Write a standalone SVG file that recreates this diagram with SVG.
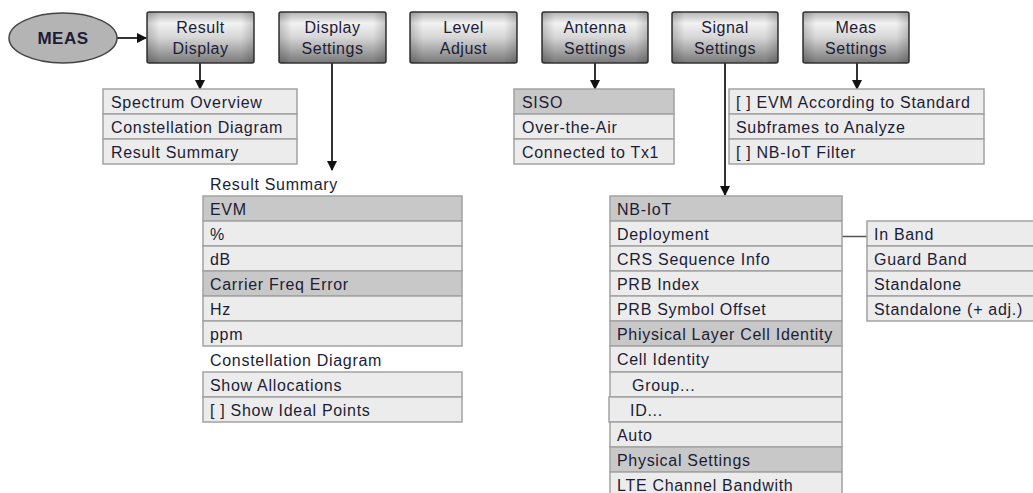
<svg xmlns="http://www.w3.org/2000/svg" width="1033" height="493" viewBox="0 0 1033 493">
<defs>
<linearGradient id="btn" x1="0" y1="0" x2="0" y2="1">
<stop offset="0" stop-color="#b4b4b4"/>
<stop offset="0.22" stop-color="#f2f2f2"/>
<stop offset="0.5" stop-color="#d6d6d6"/>
<stop offset="1" stop-color="#787878"/>
</linearGradient>
<linearGradient id="btnh" x1="0" y1="0" x2="1" y2="0">
<stop offset="0" stop-color="#000" stop-opacity="0.18"/>
<stop offset="0.12" stop-color="#000" stop-opacity="0"/>
<stop offset="0.88" stop-color="#000" stop-opacity="0"/>
<stop offset="1" stop-color="#000" stop-opacity="0.18"/>
</linearGradient>
<marker id="ah" markerWidth="10" markerHeight="10" refX="9" refY="5" orient="auto" markerUnits="userSpaceOnUse">
<path d="M0,0 L10,5 L0,10 Z" fill="#111"/>
</marker>
</defs>
<style>
.btn{fill:url(#btn);stroke:#333;stroke-width:1.5}
.bth{fill:url(#btnh);stroke:none}
.bt{font-family:"Liberation Sans",Arial,sans-serif;font-size:16px;letter-spacing:0.5px;fill:#1c1c36;text-anchor:middle}
.row{fill:#ececec;stroke:#a2a2a2;stroke-width:1.5}
.hd{fill:#c8c8c8;stroke:#a2a2a2;stroke-width:1.5}
.t{font-family:"Liberation Sans",Arial,sans-serif;font-size:16px;letter-spacing:0.7px;fill:#1c1c36}
.arr{stroke:#333;stroke-width:2;fill:none;marker-end:url(#ah)}
.ln{stroke:#555;stroke-width:1.5;fill:none}
</style>
<rect width="1033" height="493" fill="#fff"/>

<g id="connectors">
<line class="arr" x1="117" y1="38" x2="146" y2="38"/>
<line class="arr" x1="200" y1="63" x2="200" y2="89"/>
<line class="arr" x1="332" y1="63" x2="332" y2="170"/>
<line class="arr" x1="595" y1="63" x2="595" y2="89"/>
<line class="arr" x1="725" y1="63" x2="725" y2="195"/>
<line class="arr" x1="857" y1="63" x2="857" y2="89"/>
<line class="ln" x1="842" y1="236.5" x2="867" y2="236.5"/>
</g>

<g id="meas">
<ellipse cx="63" cy="38" rx="54" ry="25" fill="#b4b4b4" stroke="#444" stroke-width="1.5"/>
<text x="63" y="44" font-family="Liberation Sans,Arial,sans-serif" font-size="17" font-weight="bold" letter-spacing="0.5" fill="#1c1c36" text-anchor="middle">MEAS</text>
</g>

<g id="btn-result-display">
<rect class="btn" x="147" y="12" width="107" height="51" rx="2"/>
<rect class="bth" x="147" y="12" width="107" height="51" rx="2"/>
<text class="bt" x="200.5" y="33">Result</text>
<text class="bt" x="200.5" y="54">Display</text>
</g>
<g id="btn-display-settings">
<rect class="btn" x="279" y="12" width="107" height="51" rx="2"/>
<rect class="bth" x="279" y="12" width="107" height="51" rx="2"/>
<text class="bt" x="332.5" y="33">Display</text>
<text class="bt" x="332.5" y="54">Settings</text>
</g>
<g id="btn-level-adjust">
<rect class="btn" x="410" y="12" width="107" height="51" rx="2"/>
<rect class="bth" x="410" y="12" width="107" height="51" rx="2"/>
<text class="bt" x="463.5" y="33">Level</text>
<text class="bt" x="463.5" y="54">Adjust</text>
</g>
<g id="btn-antenna-settings">
<rect class="btn" x="542" y="12" width="106" height="51" rx="2"/>
<rect class="bth" x="542" y="12" width="106" height="51" rx="2"/>
<text class="bt" x="595" y="33">Antenna</text>
<text class="bt" x="595" y="54">Settings</text>
</g>
<g id="btn-signal-settings">
<rect class="btn" x="672" y="12" width="106" height="51" rx="2"/>
<rect class="bth" x="672" y="12" width="106" height="51" rx="2"/>
<text class="bt" x="725" y="33">Signal</text>
<text class="bt" x="725" y="54">Settings</text>
</g>
<g id="btn-meas-settings">
<rect class="btn" x="803" y="12" width="106" height="51" rx="2"/>
<rect class="bth" x="803" y="12" width="106" height="51" rx="2"/>
<text class="bt" x="856" y="33">Meas</text>
<text class="bt" x="856" y="54">Settings</text>
</g>

<g id="list-result-display">
<rect class="row" x="103" y="89" width="194" height="25"/>
<rect class="row" x="103" y="114" width="194" height="25"/>
<rect class="row" x="103" y="139" width="194" height="25"/>
<text class="t" x="111" y="107.5">Spectrum Overview</text>
<text class="t" x="111" y="132.5">Constellation Diagram</text>
<text class="t" x="111" y="157.5">Result Summary</text>
</g>

<g id="list-display-settings">
<text class="t" x="210" y="189.5">Result Summary</text>
<rect class="hd" x="203" y="196" width="259" height="25"/>
<rect class="row" x="203" y="221" width="259" height="25"/>
<rect class="row" x="203" y="246" width="259" height="25"/>
<rect class="hd" x="203" y="271" width="259" height="25"/>
<rect class="row" x="203" y="296" width="259" height="25"/>
<rect class="row" x="203" y="321" width="259" height="25"/>
<text class="t" x="210" y="214.5">EVM</text>
<text class="t" x="210" y="239.5">%</text>
<text class="t" x="210" y="264.5">dB</text>
<text class="t" x="210" y="289.5">Carrier Freq Error</text>
<text class="t" x="210" y="314.5">Hz</text>
<text class="t" x="210" y="339.5">ppm</text>
<text class="t" x="210" y="365.5">Constellation Diagram</text>
<rect class="row" x="203" y="372" width="259" height="25"/>
<rect class="row" x="203" y="397" width="259" height="25"/>
<text class="t" x="210" y="390.5">Show Allocations</text>
<text class="t" x="210" y="415.5">[ ] Show Ideal Points</text>
</g>

<g id="list-antenna-settings">
<rect class="hd" x="514" y="89" width="160" height="25"/>
<rect class="row" x="514" y="114" width="160" height="25"/>
<rect class="row" x="514" y="139" width="160" height="25"/>
<text class="t" x="522" y="107.5">SISO</text>
<text class="t" x="522" y="132.5">Over-the-Air</text>
<text class="t" x="522" y="157.5">Connected to Tx1</text>
</g>

<g id="list-meas-settings">
<rect class="row" x="729" y="89" width="255" height="25"/>
<rect class="row" x="729" y="114" width="255" height="25"/>
<rect class="row" x="729" y="139" width="255" height="25"/>
<text class="t" x="736" y="107.5">[ ] EVM According to Standard</text>
<text class="t" x="736" y="132.5">Subframes to Analyze</text>
<text class="t" x="736" y="157.5">[ ] NB-IoT Filter</text>
</g>

<g id="list-signal-settings">
<rect class="hd" x="610" y="196" width="232" height="25"/>
<rect class="row" x="610" y="221" width="232" height="25"/>
<rect class="row" x="610" y="246" width="232" height="25"/>
<rect class="row" x="610" y="271" width="232" height="25"/>
<rect class="row" x="610" y="296" width="232" height="25"/>
<rect class="hd" x="610" y="321" width="232" height="25"/>
<rect class="row" x="610" y="346" width="232" height="26"/>
<rect class="row" x="610" y="372" width="232" height="25"/>
<rect class="row" x="609" y="397" width="233" height="25"/>
<rect class="row" x="610" y="422" width="232" height="25"/>
<rect class="hd" x="610" y="447" width="232" height="25"/>
<rect class="row" x="610" y="472" width="232" height="25"/>
<text class="t" x="617" y="214.5">NB-IoT</text>
<text class="t" x="617" y="239.5">Deployment</text>
<text class="t" x="617" y="264.5">CRS Sequence Info</text>
<text class="t" x="617" y="289.5">PRB Index</text>
<text class="t" x="617" y="314.5">PRB Symbol Offset</text>
<text class="t" x="617" y="339.5">Phiysical Layer Cell Identity</text>
<text class="t" x="617" y="365">Cell Identity</text>
<text class="t" x="632" y="390.5">Group...</text>
<text class="t" x="630" y="415.5">ID...</text>
<text class="t" x="617" y="440.5">Auto</text>
<text class="t" x="617" y="465.5">Physical Settings</text>
<text class="t" x="617" y="490.5">LTE Channel Bandwith</text>
</g>

<g id="list-deployment">
<rect class="row" x="867" y="221" width="175" height="25"/>
<rect class="row" x="867" y="246" width="175" height="25"/>
<rect class="row" x="867" y="271" width="175" height="25"/>
<rect class="row" x="867" y="296" width="175" height="25"/>
<text class="t" x="874" y="239.5">In Band</text>
<text class="t" x="874" y="264.5">Guard Band</text>
<text class="t" x="874" y="289.5">Standalone</text>
<text class="t" x="874" y="314.5">Standalone (+ adj.)</text>
</g>
</svg>
